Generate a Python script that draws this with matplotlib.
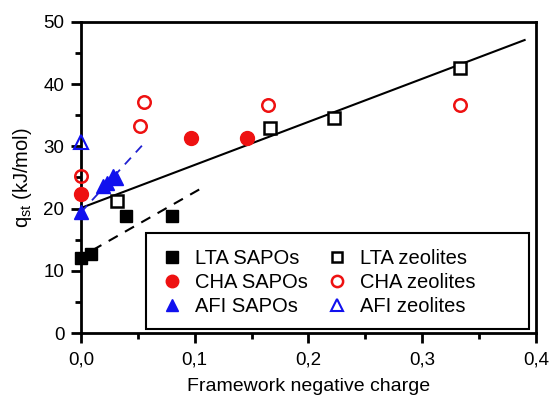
import numpy as np
import matplotlib.pyplot as plt
from matplotlib.ticker import MultipleLocator, FuncFormatter
from matplotlib.patches import Rectangle

plt.rcParams['font.family'] = ['Liberation Sans', 'DejaVu Sans']

# data
lta_sapo_x = [0.0, 0.009, 0.040, 0.080]
lta_sapo_y = [12.1, 12.7, 18.8, 18.8]
cha_sapo_x = [0.0, 0.097, 0.146]
cha_sapo_y = [22.4, 31.4, 31.4]
afi_sapo_x = [0.0, 0.019, 0.023, 0.028, 0.031]
afi_sapo_y = [19.4, 23.6, 24.1, 25.3, 24.9]
lta_zeo_x = [0.032, 0.166, 0.222, 0.333]
lta_zeo_y = [21.2, 33.0, 34.5, 42.6]
cha_zeo_x = [0.0, 0.052, 0.055, 0.164, 0.333]
cha_zeo_y = [25.3, 33.2, 37.2, 36.7, 36.6]
afi_zeo_x = [0.0]
afi_zeo_y = [30.7]

# fitted lines (end points)
fit_all_x = [0.0, 0.39]
fit_all_y = [20.1, 47.1]
fit_lta_x = [0.01, 0.11]
fit_lta_y = [13.3, 23.7]
fit_afi_x = [0.0, 0.055]
fit_afi_y = [19.4, 30.4]

fig = plt.figure(figsize=(5.49, 3.97), dpi=100)
ax = fig.add_axes([0.1475, 0.1612, 0.8288, 0.7834])

ax.plot(fit_all_x, fit_all_y, color='black', lw=1.5, zorder=2)
ax.plot(fit_lta_x, fit_lta_y, color='black', lw=1.5, ls=(0, (5, 4)), zorder=2)
ax.plot(fit_afi_x, fit_afi_y, color='#2020d0', lw=1.3, ls=(0, (5, 4)), zorder=2)

ax.plot(lta_sapo_x, lta_sapo_y, 's', color='black', ms=9, ls='none', label='LTA SAPOs', clip_on=False, zorder=3)
ax.plot(cha_sapo_x, cha_sapo_y, 'o', color='#ee1111', ms=10, ls='none', label='CHA SAPOs', clip_on=False, zorder=3)
ax.plot(afi_sapo_x, afi_sapo_y, '^', color='#1111ee', ms=10, ls='none', label='AFI SAPOs', clip_on=False, zorder=3)
ax.plot(lta_zeo_x, lta_zeo_y, 's', mfc='white', mec='black', mew=1.8, ms=8, ls='none', label='LTA zeolites', clip_on=False, zorder=3)
ax.plot(cha_zeo_x, cha_zeo_y, 'o', mfc='none', mec='#ee1111', mew=1.8, ms=9, ls='none', label='CHA zeolites', clip_on=False, zorder=3)
ax.plot(afi_zeo_x, afi_zeo_y, '^', mfc='none', mec='#1111ee', mew=1.5, ms=10, ls='none', label='AFI zeolites', clip_on=False, zorder=3)

ax.set_xlim(0, 0.4)
ax.set_ylim(0, 50)
ax.xaxis.set_major_locator(MultipleLocator(0.1))
ax.xaxis.set_minor_locator(MultipleLocator(0.05))
ax.yaxis.set_major_locator(MultipleLocator(10))
ax.yaxis.set_minor_locator(MultipleLocator(5))
ax.xaxis.set_major_formatter(FuncFormatter(lambda v, p: f'{v:.1f}'.replace('.', ',')))

for s in ax.spines.values():
    s.set_linewidth(2)
ax.tick_params(which='major', direction='out', length=7, width=2, labelsize=13.5, colors='black')
ax.tick_params(which='minor', direction='out', length=4, width=2)
ax.tick_params(axis='x', pad=6)
ax.tick_params(axis='y', pad=5)

ax.set_xlabel('Framework negative charge', fontsize=14, labelpad=7)
ax.set_ylabel('q$_{\\mathregular{st}}$ (kJ/mol)', fontsize=14.5, labelpad=7)

# legend box (wider than its contents in the original)
ax.add_patch(Rectangle((0.143, 0.013), 0.842, 0.307, transform=ax.transAxes,
                       facecolor='white', edgecolor='black', lw=1.5, zorder=4))
leg = ax.legend(ncol=2, loc='center left', bbox_to_anchor=(0.157, 0.161), fontsize=14.5,
                frameon=False, handletextpad=0.7, columnspacing=1.0, borderpad=0,
                labelspacing=0.25, handlelength=0.9, markerscale=0.9)
leg.set_zorder(5)

fig.savefig('out.png', dpi=100)
